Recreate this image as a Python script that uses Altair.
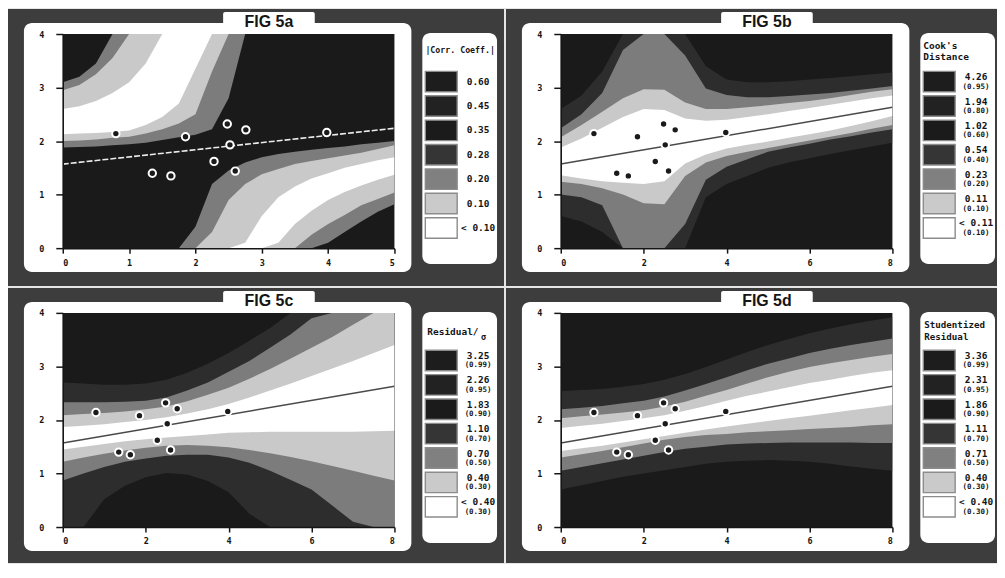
import altair as alt
import pandas as pd

# ---------------- data ----------------
# the ten observations
PTS_X = [0.80, 1.85, 2.48, 2.76, 2.52, 3.98, 2.28, 1.35, 1.63, 2.60]
PTS_Y = [2.14, 2.08, 2.32, 2.21, 1.93, 2.16, 1.62, 1.40, 1.35, 1.44]

# fitted regression line (end points)
LINE_A_X = [0.0, 5.0]
LINE_A_Y = [1.57, 2.24]
LINE_X = [0.0, 8.0]
LINE_Y = [1.57, 2.63]

# x positions at which contour boundaries were read
XA = [0.0, 0.25, 0.5, 0.75, 1.0, 1.25, 1.5, 1.75, 2.0, 2.25, 2.5,
      2.75, 3.0, 3.25, 3.5, 3.75, 4.0, 4.25, 4.5, 4.75, 5.0]
XB = [0.0, 0.5, 1.0, 1.5, 2.0, 2.5, 3.0, 3.5, 4.0, 4.5, 5.0, 5.5,
      6.0, 6.5, 7.0, 7.5, 8.0]

# FIG 5a |corr. coeff.| : upper-left family (lo/hi of each band region)
A_UG_LO = [1.88, 1.89, 1.90, 1.92, 1.94, 1.97, 2.02, 2.07, 2.12, 2.22, 2.80,
           4, 4, 4, 4, 4, 4, 4, 4, 4, 4]
A_UG_HI = [3.10, 3.20, 3.45, 4, 4, 4, 4, 4, 4, 4, 4,
           4, 4, 4, 4, 4, 4, 4, 4, 4, 4]
A_UD_LO = [2.00, 2.01, 2.03, 2.06, 2.08, 2.14, 2.22, 2.33, 2.50, 3.30, 4,
           4, 4, 4, 4, 4, 4, 4, 4, 4, 4]
A_UD_HI = [2.95, 3.05, 3.25, 3.55, 4, 4, 4, 4, 4, 4, 4,
           4, 4, 4, 4, 4, 4, 4, 4, 4, 4]
A_UW_LO = [2.13, 2.14, 2.15, 2.17, 2.20, 2.30, 2.45, 2.70, 3.35, 4, 4,
           4, 4, 4, 4, 4, 4, 4, 4, 4, 4]
A_UW_HI = [2.60, 2.65, 2.75, 2.90, 3.10, 3.45, 4, 4, 4, 4, 4,
           4, 4, 4, 4, 4, 4, 4, 4, 4, 4]
# lower-right family
A_LG_LO = [0, 0, 0, 0, 0, 0, 0, 0, 0, 0, 0,
           0, 0, 0, 0, 0, 0.10, 0.30, 0.50, 0.68, 0.82]
A_LG_HI = [0, 0, 0, 0, 0, 0, 0, 0, 0.40, 1.20, 1.45,
           1.60, 1.70, 1.76, 1.80, 1.84, 1.87, 1.90, 1.94, 1.97, 2.00]
A_LD_LO = [0, 0, 0, 0, 0, 0, 0, 0, 0, 0, 0,
           0, 0, 0, 0, 0.25, 0.45, 0.62, 0.80, 0.92, 1.04]
A_LD_HI = [0, 0, 0, 0, 0, 0, 0, 0, 0, 0.30, 0.90,
           1.20, 1.38, 1.48, 1.57, 1.63, 1.68, 1.73, 1.78, 1.85, 1.92]
A_LW_LO = [0, 0, 0, 0, 0, 0, 0, 0, 0, 0, 0,
           0, 0, 0.10, 0.45, 0.70, 0.90, 1.05, 1.17, 1.28, 1.37]
A_LW_HI = [0, 0, 0, 0, 0, 0, 0, 0, 0, 0, 0,
           0.10, 0.60, 0.95, 1.15, 1.30, 1.40, 1.50, 1.57, 1.64, 1.70]

# FIG 5b Cook's distance
B_R_TOP = [2.60, 2.85, 3.30, 4.00, 4.00, 4.00, 4.00, 3.40, 3.15, 3.10, 3.10, 3.12, 3.15, 3.18, 3.21, 3.25, 3.28]
B_G_TOP = [2.24, 2.50, 2.90, 3.70, 4.00, 4.00, 3.60, 2.98, 2.86, 2.82, 2.82, 2.84, 2.87, 2.90, 2.94, 2.98, 3.03]
B_D_TOP = [2.07, 2.30, 2.55, 2.80, 2.97, 2.96, 2.72, 2.60, 2.60, 2.63, 2.67, 2.71, 2.75, 2.80, 2.86, 2.92, 2.97]
B_W_TOP = [1.88, 2.05, 2.25, 2.45, 2.60, 2.58, 2.42, 2.38, 2.40, 2.45, 2.50, 2.56, 2.62, 2.68, 2.74, 2.80, 2.85]
B_W_BOT = [1.36, 1.30, 1.25, 1.22, 1.20, 1.25, 1.58, 1.75, 1.86, 1.93, 1.99, 2.06, 2.13, 2.20, 2.28, 2.37, 2.47]
B_D_BOT = [1.24, 1.20, 1.12, 1.00, 0.84, 0.82, 1.35, 1.60, 1.72, 1.80, 1.87, 1.94, 2.01, 2.08, 2.15, 2.23, 2.30]
B_G_BOT = [1.00, 0.95, 0.80, 0.00, 0.00, 0.00, 0.45, 1.28, 1.52, 1.66, 1.80, 1.88, 1.95, 2.03, 2.09, 2.16, 2.22]
B_R_BOT = [0.60, 0.50, 0.30, 0.00, 0.00, 0.00, 0.00, 0.95, 1.20, 1.35, 1.50, 1.60, 1.68, 1.76, 1.83, 1.90, 1.97]

# FIG 5c residual / sigma
C_R_TOP = [2.70, 2.68, 2.66, 2.66, 2.68, 2.75, 2.88, 3.05, 3.25, 3.48, 3.72, 4.00, 4.00, 4.00, 4.00, 4.00, 4.00]
C_G_TOP = [2.33, 2.33, 2.33, 2.34, 2.36, 2.42, 2.55, 2.70, 2.90, 3.10, 3.35, 3.60, 3.90, 4.00, 4.00, 4.00, 4.00]
C_D_TOP = [2.09, 2.11, 2.13, 2.16, 2.20, 2.25, 2.35, 2.47, 2.60, 2.77, 2.95, 3.15, 3.35, 3.55, 3.78, 4.00, 4.00]
C_W_TOP = [1.87, 1.89, 1.92, 1.96, 2.00, 2.05, 2.12, 2.20, 2.30, 2.42, 2.55, 2.68, 2.82, 2.96, 3.10, 3.25, 3.40]
C_W_BOT = [1.45, 1.50, 1.55, 1.60, 1.64, 1.67, 1.70, 1.73, 1.76, 1.77, 1.78, 1.78, 1.78, 1.78, 1.78, 1.79, 1.80]
C_D_BOT = [1.22, 1.30, 1.37, 1.43, 1.48, 1.52, 1.53, 1.52, 1.49, 1.44, 1.38, 1.31, 1.23, 1.14, 1.05, 0.96, 0.87]
C_G_BOT = [0.87, 1.00, 1.12, 1.22, 1.28, 1.33, 1.35, 1.35, 1.30, 1.20, 1.05, 0.88, 0.70, 0.40, 0.10, 0.00, 0.00]
C_R_BOT = [0.00, 0.00, 0.52, 0.77, 0.93, 1.01, 0.98, 0.86, 0.65, 0.25, 0.00, 0.00, 0.00, 0.00, 0.00, 0.00, 0.00]

# FIG 5d studentized residual
D_R_TOP = [2.54, 2.56, 2.58, 2.62, 2.67, 2.75, 2.86, 2.99, 3.13, 3.27, 3.40, 3.51, 3.62, 3.71, 3.79, 3.86, 3.92]
D_G_TOP = [2.20, 2.23, 2.26, 2.31, 2.36, 2.44, 2.55, 2.67, 2.80, 2.93, 3.05, 3.15, 3.25, 3.33, 3.40, 3.46, 3.52]
D_D_TOP = [2.03, 2.07, 2.10, 2.14, 2.18, 2.25, 2.34, 2.45, 2.56, 2.68, 2.80, 2.90, 2.99, 3.06, 3.12, 3.18, 3.23]
D_W_TOP = [1.85, 1.89, 1.93, 1.98, 2.03, 2.09, 2.17, 2.26, 2.36, 2.45, 2.53, 2.61, 2.69, 2.75, 2.82, 2.88, 2.93]
D_W_BOT = [1.42, 1.47, 1.52, 1.58, 1.64, 1.70, 1.76, 1.82, 1.88, 1.93, 1.98, 2.03, 2.08, 2.13, 2.18, 2.23, 2.28]
D_D_BOT = [1.30, 1.36, 1.42, 1.49, 1.56, 1.63, 1.68, 1.72, 1.74, 1.77, 1.79, 1.81, 1.83, 1.85, 1.87, 1.90, 1.92]
D_G_BOT = [1.05, 1.12, 1.19, 1.26, 1.33, 1.40, 1.46, 1.50, 1.54, 1.56, 1.57, 1.58, 1.58, 1.58, 1.58, 1.57, 1.57]
D_R_BOT = [0.70, 0.78, 0.86, 0.94, 1.00, 1.06, 1.12, 1.18, 1.22, 1.24, 1.25, 1.24, 1.22, 1.18, 1.13, 1.09, 1.05]

# legends
A_LAB = ["0.60", "0.45", "0.35", "0.28", "0.20", "0.10", "< 0.10"]
B_LAB = ["4.26", "1.94", "1.02", "0.54", "0.23", "0.11", "< 0.11"]
B_SUB = ["(0.95)", "(0.80)", "(0.60)", "(0.40)", "(0.20)", "(0.10)", "(0.10)"]
C_LAB = ["3.25", "2.26", "1.83", "1.10", "0.70", "0.40", "< 0.40"]
C_SUB = ["(0.99)", "(0.95)", "(0.90)", "(0.70)", "(0.50)", "(0.30)", "(0.30)"]
D_LAB = ["3.36", "2.31", "1.86", "1.11", "0.71", "0.40", "< 0.40"]
D_SUB = ["(0.99)", "(0.95)", "(0.90)", "(0.70)", "(0.50)", "(0.30)", "(0.30)"]

# ---------------- styling ----------------
W, H = 333, 215          # plot area of each panel
L, T = 55, 25            # plot offset inside its quadrant
MONO = "DejaVu Sans Mono"
SANS = "Liberation Sans"
INK = "#151515"
C_BASE, C_RIM, C_GRAY, C_DOT, C_WHITE = "#1a1a1a", "#2d2d2d", "#7c7c7c", "#c9c9c9", "#ffffff"
SWATCH = ["#1d1d1d", "#222222", "#1b1b1b", "#353535", "#808080", "#cacaca", "#ffffff"]
ONE = pd.DataFrame({"k": [0]})


def box(x, x2, y, y2, color, radius=0):
    return alt.Chart(ONE).mark_rect(color=color, cornerRadius=radius).encode(
        x=alt.value(x), x2=alt.value(x2), y=alt.value(y), y2=alt.value(y2))


def text(s, x, y, size, align="left", font=MONO, baseline="middle"):
    return alt.Chart(ONE).mark_text(
        text=s, align=align, baseline=baseline, fontSize=size, fontWeight="bold",
        font=font, color=INK).encode(x=alt.value(x), y=alt.value(y))


def plot(xs, regions, xmax, xticks, lx, ly, dashed):
    xsc = alt.Scale(domain=[0, xmax], nice=False, zero=False)
    ysc = alt.Scale(domain=[0, 4], nice=False, zero=False)
    axx = alt.Axis(values=xticks, format="d", title=None, grid=False, zindex=1,
                   labelFont=MONO, labelFontWeight="bold", labelFontSize=8.5, labelColor=INK,
                   domainColor=INK, domainWidth=1.5, tickColor=INK, tickWidth=1.5,
                   tickSize=5, labelPadding=5)
    axy = alt.Axis(values=[0, 1, 2, 3, 4], format="d", title=None, grid=False, zindex=1,
                   labelFont=MONO, labelFontWeight="bold", labelFontSize=8.5, labelColor=INK,
                   domainColor=INK, domainWidth=1.5, tickColor=INK, tickWidth=1.5,
                   tickSize=7, labelPadding=12)
    layers = [box(0, W, 0, H, C_BASE)]
    for color, lo, hi in regions:
        df = pd.DataFrame({"x": xs, "lo": lo, "hi": hi})
        layers.append(alt.Chart(df).mark_area(color=color, clip=True, opacity=1).encode(
            x=alt.X("x:Q", scale=xsc, axis=axx),
            y=alt.Y("lo:Q", scale=ysc, axis=axy),
            y2="hi:Q"))
    ldf = pd.DataFrame({"x": lx, "y": ly})
    if dashed:
        lm = alt.Chart(ldf).mark_line(color="#ececec", strokeWidth=1.6, strokeDash=[6, 2], clip=True)
    else:
        lm = alt.Chart(ldf).mark_line(color="#4a4a4a", strokeWidth=1.5, clip=True)
    layers.append(lm.encode(x=alt.X("x:Q", scale=xsc, axis=axx), y=alt.Y("y:Q", scale=ysc, axis=axy)))
    pdf = pd.DataFrame({"x": PTS_X, "y": PTS_Y})
    layers.append(alt.Chart(pdf).mark_point(
        shape="circle", filled=True, size=55, fill="#1a1a1a", stroke="#ffffff",
        strokeWidth=2, opacity=1).encode(
        x=alt.X("x:Q", scale=xsc, axis=axx), y=alt.Y("y:Q", scale=ysc, axis=axy)))
    return alt.layer(*layers)


def legend(labs, subs):
    df = pd.DataFrame({"lab": labs, "sub": subs if subs else [""] * len(labs), "col": SWATCH})
    ysc = alt.Scale(type="band", domain=labs, range=[37.5, 205.0], paddingInner=0.16, paddingOuter=0)
    base = alt.Chart(df)
    sw = base.mark_rect(stroke="#8c8c8c", strokeWidth=1.4).encode(
        x=alt.value(364), x2=alt.value(396),
        y=alt.Y("lab:N", scale=ysc, axis=None),
        color=alt.Color("col:N", scale=None))
    ypos = alt.Y("lab:N", scale=ysc, axis=None, bandPosition=0.5)
    parts = [sw]
    if subs:
        parts.append(base.mark_text(align="center", baseline="middle", dy=-4.5, fontSize=9.5,
                                    fontWeight="bold", font=MONO, color=INK).encode(
            x=alt.value(417), y=ypos, text="lab:N"))
        parts.append(base.mark_text(align="center", baseline="middle", dy=5, fontSize=7.5,
                                    fontWeight="bold", font=MONO, color=INK).encode(
            x=alt.value(417), y=ypos, text="sub:N"))
    else:
        parts.append(base.mark_text(align="center", baseline="middle", fontSize=9.5,
                                    fontWeight="bold", font=MONO, color=INK).encode(
            x=alt.value(417), y=ypos, text="lab:N"))
    return alt.layer(*parts)


def quadrant(qw, qh, fig, plt, leg, leg_title):
    deco = [
        box(-L, qw - L, -T, qh - T, "#3d3d3d"),
        box(-39, 350, -11, 239, "#ffffff", 8),
        box(161, 253, -22, -6, "#ffffff", 2),
        text(fig, 207, -7, 16, align="center", font=SANS, baseline="alphabetic"),
        box(361, 436, -1, 231, "#ffffff", 8),
    ]
    return alt.layer(*deco, *leg_title, plt, leg).resolve_scale(y="independent").properties(
        width=W, height=H)


qa = quadrant(
    498, 278, "FIG 5a",
    plot(XA, [(C_GRAY, A_UG_LO, A_UG_HI), (C_GRAY, A_LG_LO, A_LG_HI),
              (C_DOT, A_UD_LO, A_UD_HI), (C_DOT, A_LD_LO, A_LD_HI),
              (C_WHITE, A_UW_LO, A_UW_HI), (C_WHITE, A_LW_LO, A_LW_HI)],
         5, [0, 1, 2, 3, 4, 5], LINE_A_X, LINE_A_Y, True),
    legend(A_LAB, None),
    [text("|Corr. Coeff.|", 399, 17, 8.3, align="center")])

qb = quadrant(
    493, 278, "FIG 5b",
    plot(XB, [(C_RIM, B_R_BOT, B_R_TOP), (C_GRAY, B_G_BOT, B_G_TOP),
              (C_DOT, B_D_BOT, B_D_TOP), (C_WHITE, B_W_BOT, B_W_TOP)],
         8, [0, 2, 4, 6, 8], LINE_X, LINE_Y, False),
    legend(B_LAB, B_SUB),
    [text("Cook's", 364, 12, 9.5), text("Distance", 364, 23, 9.5)])

qc = quadrant(
    498, 276, "FIG 5c",
    plot(XB, [(C_RIM, C_R_BOT, C_R_TOP), (C_GRAY, C_G_BOT, C_G_TOP),
              (C_DOT, C_D_BOT, C_D_TOP), (C_WHITE, C_W_BOT, C_W_TOP)],
         8, [0, 2, 4, 6, 8], LINE_X, LINE_Y, False),
    legend(C_LAB, C_SUB),
    [text("Residual/", 366, 19, 9.5), text("σ", 420, 24, 8.5)])

qd = quadrant(
    493, 276, "FIG 5d",
    plot(XB, [(C_RIM, D_R_BOT, D_R_TOP), (C_GRAY, D_G_BOT, D_G_TOP),
              (C_DOT, D_D_BOT, D_D_TOP), (C_WHITE, D_W_BOT, D_W_TOP)],
         8, [0, 2, 4, 6, 8], LINE_X, LINE_Y, False),
    legend(D_LAB, D_SUB),
    [text("Studentized", 365, 12, 9.2), text("Residual", 365, 24, 9.2)])

chart = alt.vconcat(
    alt.hconcat(qa, qb, spacing=2),
    alt.hconcat(qc, qd, spacing=2),
    spacing=2,
).properties(background="#e6e6e6", padding=0).configure_view(stroke=None)

chart.save("out.html", embed_options={"renderer": "svg", "actions": False})
